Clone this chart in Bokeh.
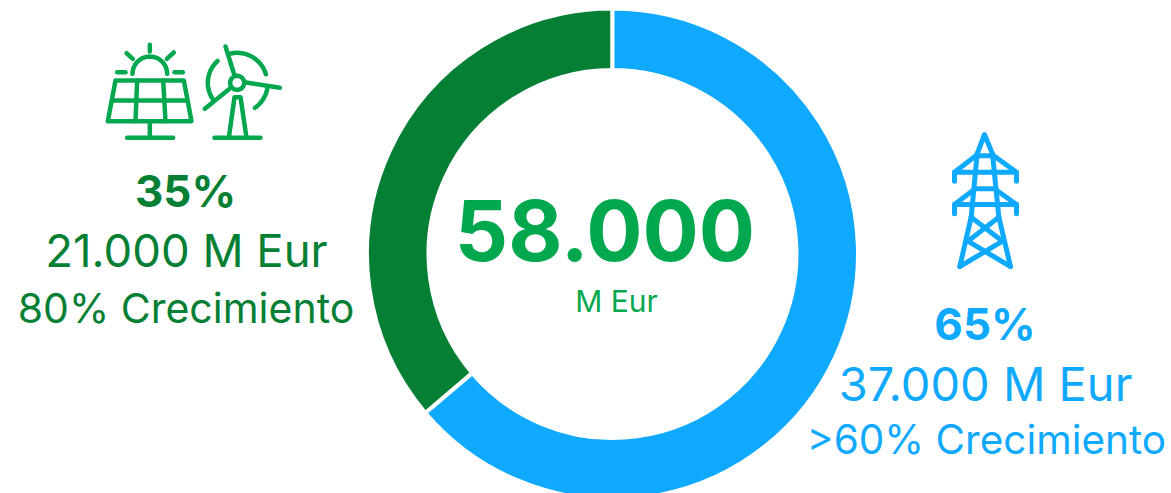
from math import pi, cos, sin, atan2
from bokeh.plotting import figure
from bokeh.embed import file_html
from bokeh.resources import INLINE
from bokeh.core.properties import value

segment_labels = ["Renovables", "Redes"]
segment_values = [21000, 37000]
segment_colors = ["#047F34", "#0FA9FF"]
center_value = "58.000"
center_unit = "M Eur"
left_texts = ["35%", "21.000 M Eur", "80% Crecimiento"]
right_texts = ["65%", "37.000 M Eur", ">60% Crecimiento"]

GREEN_BRIGHT = "#03A84E"
GREEN_DARK = "#047F34"
BLUE = "#0FA9FF"
FONT = "Inter"

W, H = 1171, 493
p = figure(width=W, height=H, x_range=(0, W), y_range=(H, 0),
           output_backend="svg", toolbar_location=None, min_border=0)
p.axis.visible = False
p.grid.visible = False
p.outline_line_color = None

total = sum(segment_values)
cx, cy, r_out, r_in = 612, 253.5, 245.5, 184
a0 = pi / 2
green_end = a0 + 2 * pi * segment_values[0] / total
p.annular_wedge(x=[cx, cx], y=[cy, cy], inner_radius=r_in, outer_radius=r_out,
                start_angle=[a0, green_end], end_angle=[green_end, a0 + 2 * pi],
                fill_color=segment_colors, line_color="white", line_width=4)

def tx(x, y, s, size, color, bold=False):
    p.text([x], [y - 0.37 * size], text=[s], text_font=value(FONT), text_font_size=f"{size}px",
           text_color=color, text_align="center", text_baseline="alphabetic",
           text_font_style="bold" if bold else "normal")

tx(185, 207, left_texts[0], 44, GREEN_DARK, True)
tx(186, 267, left_texts[1], 45.5, GREEN_DARK)
tx(185.5, 323, left_texts[2], 41, GREEN_DARK)
tx(604.5, 261, center_value, 83.5, GREEN_BRIGHT, True)
tx(616, 312, center_unit, 30, GREEN_BRIGHT)
tx(984.5, 340, right_texts[0], 44, BLUE, True)
tx(985, 400, right_texts[1], 47, BLUE)
tx(986, 454, right_texts[2], 40.5, BLUE)

def arc(c, r, a_from, a_to, n=24):
    return [(c[0] + r * cos(a_from + (a_to - a_from) * i / n),
             c[1] + r * sin(a_from + (a_to - a_from) * i / n)) for i in range(n + 1)]

def pol(c, pt):
    return atan2(pt[1] - c[1], pt[0] - c[0])

def draw(paths, ox, oy, color, width):
    xs = [[ox + q[0] / 3 for q in path] for path in paths]
    ys = [[oy + q[1] / 3 for q in path] for path in paths]
    p.multi_line(xs, ys, line_color=color, line_width=width, line_cap="round", line_join="round")

sun = (178, 130)
hub = (440, 157)
eco_icon = [
    [(178, 43), (178, 63)], [(108, 68), (127, 85)], [(250, 66), (229, 85)],
    [(80, 125), (105, 125)], [(252, 125), (277, 125)],
    arc(sun, 52, pi, 2 * pi),
    [(75, 150), (280, 150), (303, 272), (52, 272), (75, 150)],
    [(65, 210), (291, 210)], [(140, 150), (135, 272)], [(218, 150), (225, 272)],
    [(178, 272), (178, 322)], [(110, 322), (248, 322)],
    arc(hub, 21, 0, 2 * pi, 32),
    [(405, 48), (432, 135)], [(462, 155), (568, 172)], [(421, 172), (343, 235)],
    arc(hub, 90, pol(hub, (420, 72)), pol(hub, (530, 130))),
    arc(hub, 88, pol(hub, (382, 92)), pol(hub, (365, 205)) - 2 * pi),
    arc(hub, 92, pol(hub, (535, 175)), pol(hub, (492, 230))),
    [(415, 322), (432, 200), (450, 200), (468, 322)],
    [(372, 322), (510, 322)],
]
draw(eco_icon, 90, 30, GREEN_BRIGHT, 4.5)

pylon_icon = [
    [(140, 100), (162, 42), (186, 100)],
    [(140, 106), (186, 106)],
    [(136, 106), (72, 155), (258, 155), (190, 106)],
    [(72, 155), (72, 182)], [(258, 155), (258, 182)],
    [(140, 100), (122, 290), (88, 438)],
    [(186, 100), (205, 290), (240, 438)],
    [(134, 205), (192, 205)],
    [(130, 208), (72, 252), (258, 252), (196, 208)],
    [(72, 252), (72, 280)], [(258, 252), (258, 280)],
    [(122, 290), (216, 362), (88, 438)],
    [(205, 290), (112, 362), (240, 438)],
]
draw(pylon_icon, 930, 120, BLUE, 5)

open("out.html", "w").write(file_html(p, INLINE))
